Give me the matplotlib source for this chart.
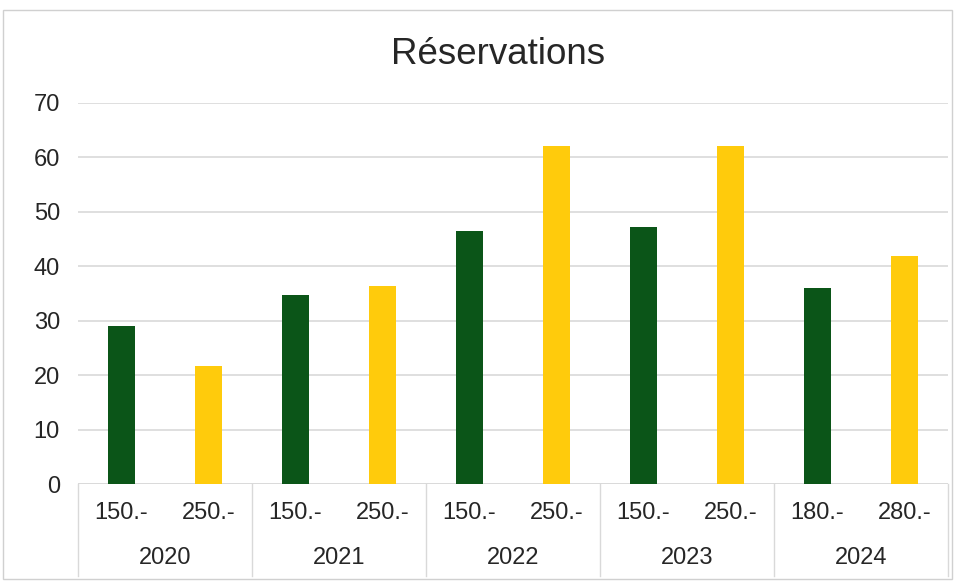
import numpy as np
import matplotlib
matplotlib.use('Agg')
import matplotlib.pyplot as plt
from matplotlib.transforms import blended_transform_factory

plt.rcParams['font.family'] = ['Liberation Sans', 'DejaVu Sans']

years = ['2020', '2021', '2022', '2023', '2024']
prices = ['150.-', '250.-', '150.-', '250.-', '150.-', '250.-', '150.-', '250.-', '180.-', '280.-']
reservations = [29.0, 21.7, 34.7, 36.4, 46.5, 62.1, 47.2, 62.0, 36.0, 41.8]

green = '#0b5518'
yellow = '#ffcb0c'
grid_col = '#d9d9d9'
text_col = '#262626'

fig = plt.figure(figsize=(9.57, 5.84), dpi=100)
ax = fig.add_axes([0.0815, 0.171, 0.909, 0.653])

x = np.arange(len(reservations))
bar_colors = [green if i % 2 == 0 else yellow for i in range(len(reservations))]
ax.bar(x, reservations, width=0.31, color=bar_colors, zorder=3)

ax.set_xlim(-0.5, len(reservations) - 0.5)
ax.set_ylim(0, 70)
ax.set_yticks(range(0, 71, 10))
ax.yaxis.grid(True, color=grid_col, linewidth=1.2, zorder=0)
ax.tick_params(axis='y', length=0, labelsize=17, labelcolor=text_col, pad=13)
ax.set_xticks([])
for s in ax.spines.values():
    s.set_visible(False)
ax.axhline(0, color=grid_col, linewidth=1.2, zorder=2)

fig.text(0.52, 0.907, 'Réservations', fontsize=26.5, color=text_col,
         ha='center', va='center')

# two-level category axis
trans = blended_transform_factory(ax.transData, ax.transAxes)
for i, p in enumerate(prices):
    ax.text(i, -0.075, p, transform=trans, ha='center', va='center',
            fontsize=17, color=text_col)
for k, yr in enumerate(years):
    ax.text(2 * k + 0.5, -0.193, yr, transform=trans, ha='center', va='center',
            fontsize=17, color=text_col)
for b in np.arange(-0.5, len(reservations), 2):
    ax.plot([b, b], [0, -0.241], transform=trans, color=grid_col,
            linewidth=1.0, clip_on=False)

# chart frame
fig.patches.append(plt.Rectangle((0.003, 0.008), 0.992, 0.975, transform=fig.transFigure,
                                 fill=False, edgecolor='#d0d0d0', linewidth=1.0))

fig.savefig('out.png', dpi=100)
